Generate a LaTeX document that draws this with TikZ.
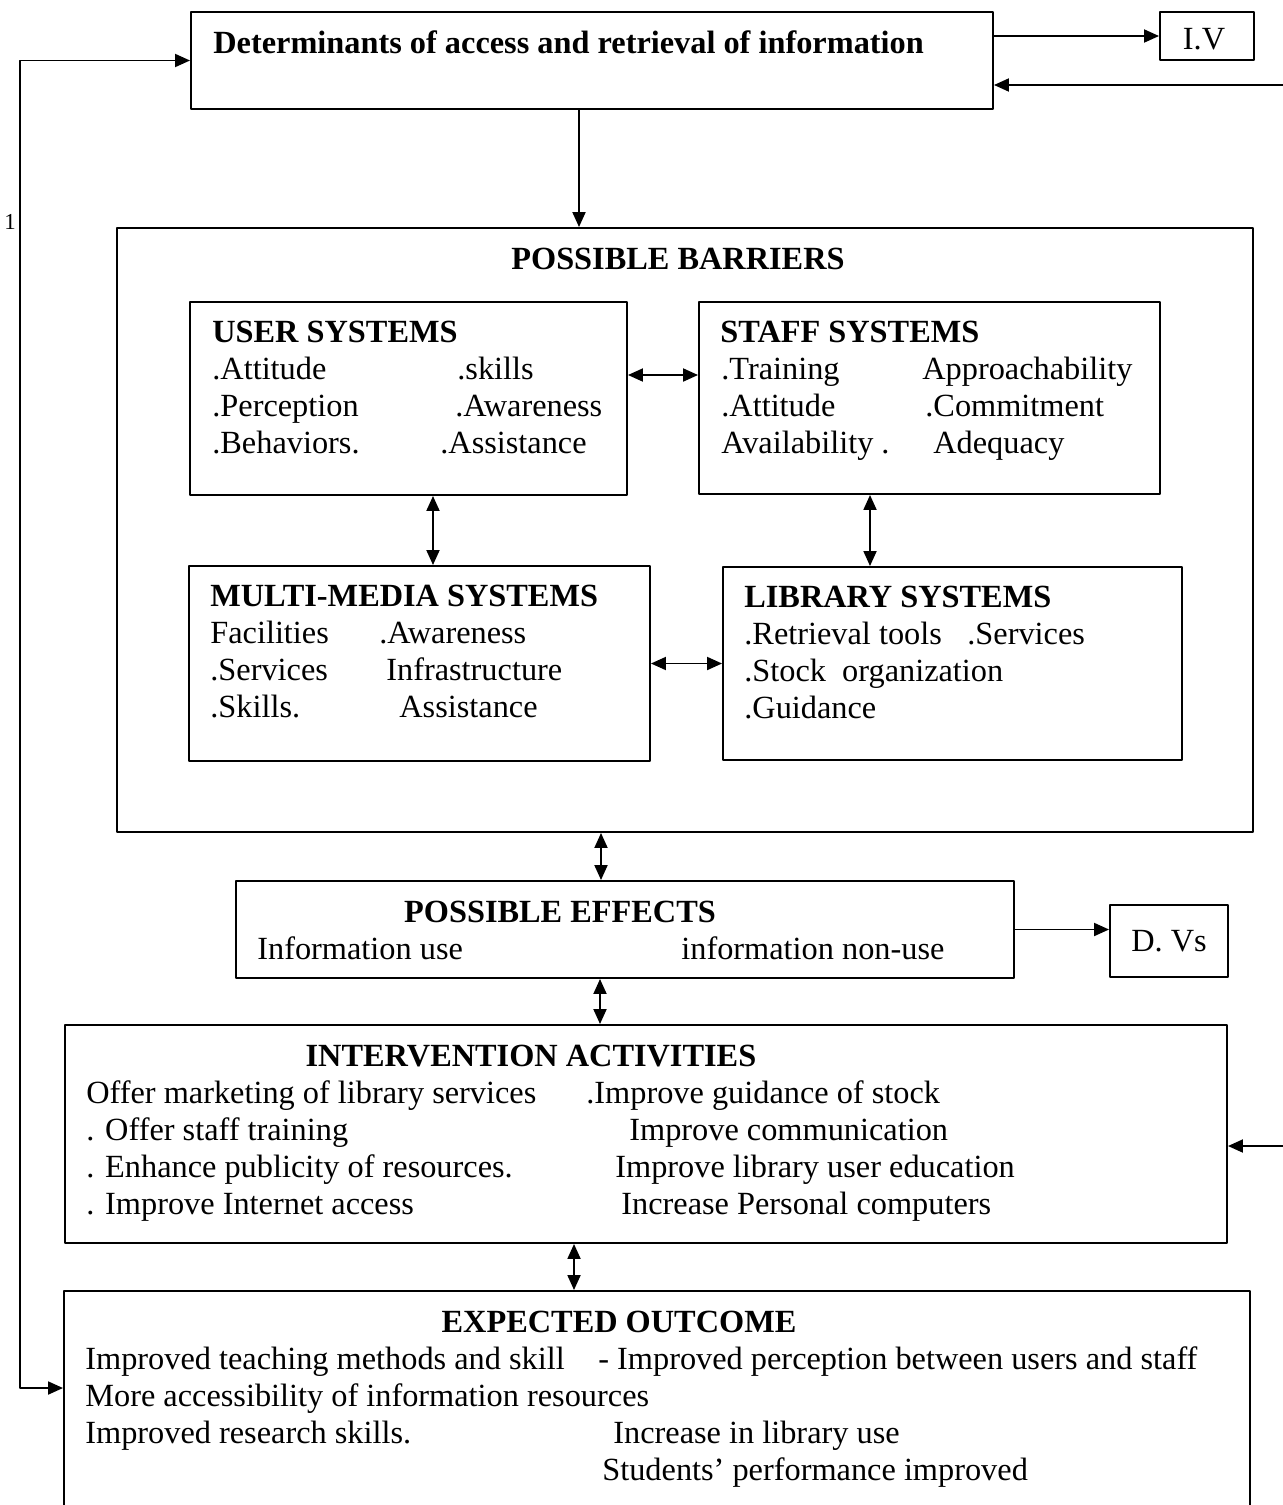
\documentclass[tikz,border=0pt]{standalone}
\usepackage{fontspec}
\setmainfont{Liberation Serif}
\usetikzlibrary{arrows.meta,fit,positioning}
\tikzset{
  box/.style={draw, line width=1.1pt, inner sep=0pt},
  txt/.style={anchor=base west, inner sep=0pt},
  ttl/.style={txt, font=\fontsize{18.4}{22}\selectfont\bfseries},
  arr/.style={line width=1.1pt, -{Triangle[length=0.3cm,width=0.26cm]}},
  dbl/.style={line width=1.1pt, {Triangle[length=0.3cm,width=0.26cm]}-{Triangle[length=0.3cm,width=0.26cm]}}
}
\begin{document}
\begin{tikzpicture}[x=0.02cm, y=-0.02cm, font=\fontsize{18.4}{22}\selectfont, line join=round]
\clip (0,0) rectangle (1283,1505);
\useasboundingbox (0,0) rectangle (1283,1505);
% boxes
\node[box, fit={(191,12) (993,109)}] (det) {};
\node[box, fit={(1160,12) (1254,60)}] (iv) {};
\node[box, fit={(117,228) (1253,832)}] (barr) {};
\node[box, fit={(190,302) (627,495)}] (user) {};
\node[box, fit={(699,302) (1160,494)}] (staff) {};
\node[box, fit={(189,566) (650,761)}] (multi) {};
\node[box, fit={(723,567) (1182,760)}] (lib) {};
\node[box, fit={(236,881) (1014,978)}] (eff) {};
\node[box, fit={(1110,905) (1228,977)}] (dv) {};
\node[box, fit={(65,1025) (1227,1243)}] (int) {};
\node[box, fit={(64,1291) (1250,1510)}] (out) {};
% top
\node[ttl] (dett) at (213,53) {Determinants of access and retrieval of information};
\node[txt, anchor=base] (ivt) at (1204,49) {I.V};
\node[inner sep=0pt] (one) at (10,222) {\fontsize{13}{15}\selectfont 1};
% barriers
\node[ttl, anchor=base] (barrt) at (678,269) {POSSIBLE BARRIERS};
\node[ttl] (usert) at (212,342) {USER SYSTEMS};
\node[txt] (u1) at (212,379) {.Attitude};
\node[txt] (u2) at (457,379) {.skills};
\node[txt] (u3) at (212,416) {.Perception};
\node[txt] (u4) at (455,416) {.Awareness};
\node[txt] (u5) at (212,453) {.Behaviors.};
\node[txt] (u6) at (440,453) {.Assistance};
\node[ttl] (stafft) at (720,342) {STAFF SYSTEMS};
\node[txt] (s1) at (721,379) {.Training};
\node[txt] (s2) at (922,379) {Approachability};
\node[txt] (s3) at (721,416) {.Attitude};
\node[txt] (s4) at (925,416) {.Commitment};
\node[txt] (s5) at (721,453) {Availability .};
\node[txt] (s6) at (933,453) {Adequacy};
\node[ttl] (multit) at (210,606) {MULTI-MEDIA SYSTEMS};
\node[txt] (m1) at (210,643) {Facilities};
\node[txt] (m2) at (379,643) {.Awareness};
\node[txt] (m3) at (210,680) {.Services};
\node[txt] (m4) at (386,680) {Infrastructure};
\node[txt] (m5) at (210,717) {.Skills.};
\node[txt] (m6) at (399,717) {Assistance};
\node[ttl] (libt) at (744,607) {LIBRARY SYSTEMS};
\node[txt] (l1) at (744,644) {.Retrieval tools};
\node[txt] (l2) at (967,644) {.Services};
\node[txt] (l3) at (744,681) {.Stock\ \ organization};
\node[txt] (l4) at (744,718) {.Guidance};
% effects
\node[ttl, anchor=base] (efft) at (560,922) {POSSIBLE EFFECTS};
\node[txt] (e1) at (257,959) {Information use};
\node[txt] (e2) at (681,959) {information non-use};
\node[inner sep=0pt] (dvt) at (dv) {D. Vs};
% intervention
\node[ttl, anchor=base] (intt) at (531,1066) {INTERVENTION ACTIVITIES};
\node[txt] (i1) at (86,1103) {Offer marketing of library services};
\node[txt] (i2) at (586,1103) {.Improve guidance of stock};
\node[txt] (i3) at (86,1140) {. Offer staff training};
\node[txt] (i4) at (629,1140) {Improve communication};
\node[txt] (i5) at (86,1177) {. Enhance publicity of resources.};
\node[txt] (i6) at (615,1177) {Improve library user education};
\node[txt] (i7) at (86,1214) {. Improve Internet access};
\node[txt] (i8) at (621,1214) {Increase Personal computers};
% outcome
\node[ttl, anchor=base] (outt) at (619,1332) {EXPECTED OUTCOME};
\node[txt] (o1) at (85,1369) {Improved teaching methods and skill};
\node[txt] (o2) at (598,1369) {- Improved perception between users and staff};
\node[txt] (o3) at (85,1406) {More accessibility of information resources};
\node[txt] (o4) at (85,1443) {Improved research skills.};
\node[txt] (o5) at (613,1443) {Increase in library use};
\node[txt] (o6) at (602,1480) {Students’ performance improved};
% connectors
\coordinate (ivin) at (1283,85);
\coordinate (intin) at (1283,1146);
\draw[arr] (iv.west -| det.east) -- (iv.west);
\draw[arr] (ivin) -- (ivin -| det.east);
\draw[arr] ([xshift=-0.26cm]det.south) -- ([xshift=-0.26cm]det.south |- barr.north);
\draw[dbl] ([yshift=0.47cm]user.east) -- ([yshift=0.47cm]user.east -| staff.west);
\draw[dbl] ([xshift=0.49cm]user.south) -- ([xshift=0.49cm]user.south |- multi.north);
\draw[dbl] ([xshift=-1.19cm]staff.south) -- ([xshift=-1.19cm]staff.south |- lib.north);
\draw[dbl] (multi.east) -- (multi.east -| lib.west);
\draw[dbl] ([xshift=-0.48cm]eff.north) -- ([xshift=-0.48cm]eff.north |- barr.south);
\draw[arr] (eff.east) -- (eff.east -| dv.west);
\draw[dbl] ([xshift=-0.5cm]eff.south) -- ([xshift=-0.5cm]eff.south |- int.north);
\draw[arr] (intin) -- (intin -| int.east);
\draw[dbl] ([xshift=-1.44cm]int.south) -- ([xshift=-1.44cm]int.south |- out.north);
\draw[dbl] (det.west) -- ++(-3.4cm,0) |- ([yshift=0.25cm]out.west);
\end{tikzpicture}
\end{document}
